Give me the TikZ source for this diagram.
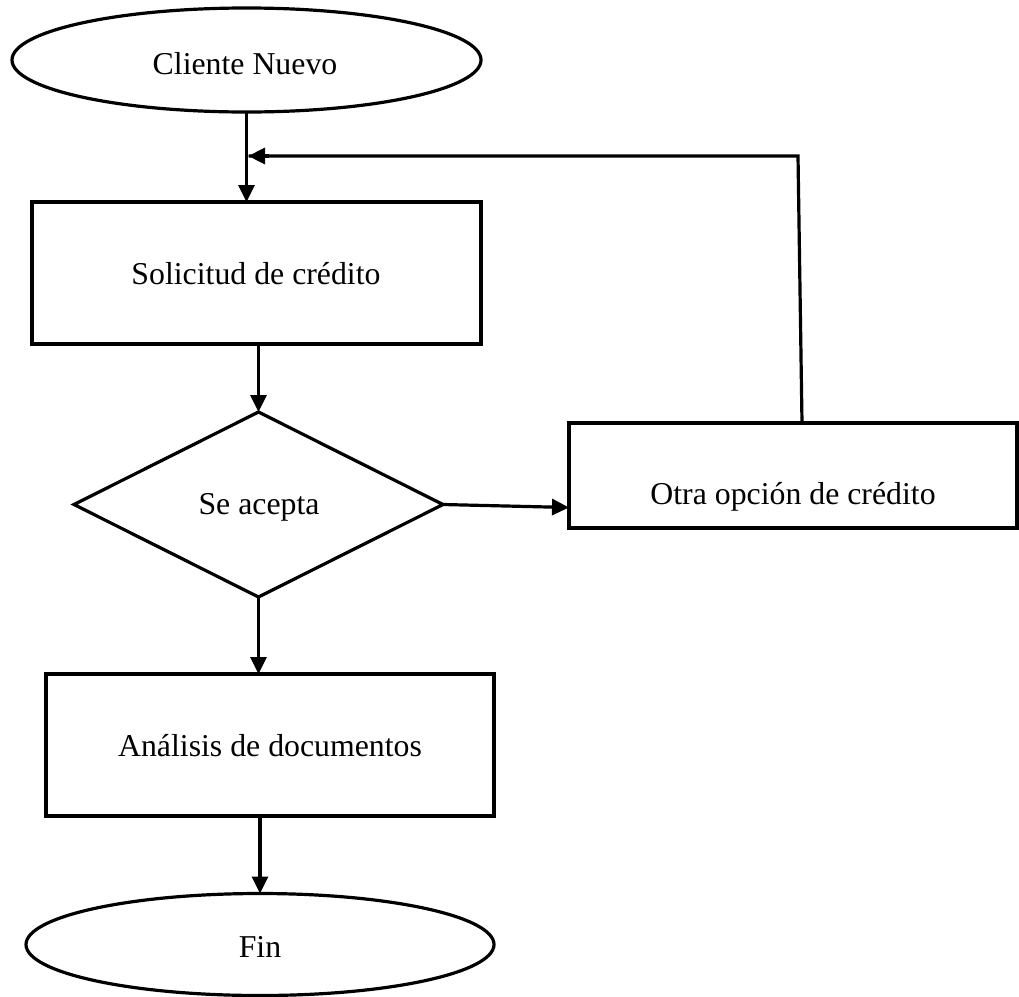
\documentclass[tikz,border=0pt]{standalone}
\usepackage{fontspec}
\setmainfont{Liberation Serif}
\usetikzlibrary{shapes.geometric,arrows.meta,calc}

\tikzset{
  base/.style={draw=black, line width=3.2pt, inner sep=0pt, outer sep=0pt,
    font=\fontsize{31.8}{38}\selectfont, text=black},
  term/.style={base, ellipse},
  procbox/.style={base, rectangle},
  decision/.style={base, diamond},
  arr/.style={line width=3.2pt, -{Triangle[length=17pt,width=16pt]}},
  plain/.style={line width=3.2pt},
}

\begin{document}
\begin{tikzpicture}[x=1pt, y=-1pt]
  \useasboundingbox (0,0) rectangle (1019,996);

  % shapes of the flow
  \node[term, minimum width=469pt, minimum height=104pt] (c1) at (246.5,60) {};
  \node[font=\fontsize{31.8}{38}\selectfont] (c1t) at (245,64) {Cliente Nuevo};

  \node[procbox, minimum width=449pt, minimum height=142pt] (s1) at (256.5,273) {};
  \node[font=\fontsize{31.8}{38}\selectfont] (s1t) at (256,274) {Solicitud de crédito};

  \node[decision, minimum width=369pt, minimum height=185pt] (d1) at (258.5,504.5) {};
  \node[font=\fontsize{31.8}{38}\selectfont] (d1t) at (259,507) {Se acepta};

  \node[procbox, minimum width=448pt, minimum height=105pt] (o1) at (793,475.5) {};
  \node[font=\fontsize{31.8}{38}\selectfont] (o1t) at (793,497) {Otra opción de crédito};

  \node[procbox, minimum width=448pt, minimum height=142pt] (a1) at (270,745) {};
  \node[font=\fontsize{31.8}{38}\selectfont] (a1t) at (270,746) {Análisis de documentos};

  \node[term, minimum width=468pt, minimum height=102pt] (f1) at (260,944.5) {};
  \node[font=\fontsize{31.8}{38}\selectfont] (f1t) at (260,947) {Fin};

  % connectors
  \draw[arr] (c1.south) -- (c1.south |- s1.north);
  \draw[arr] (d1.north |- s1.south) -- (d1.north);
  \draw[arr] (d1.east) -- ($(o1.west |- d1.east)+(0,3)$);
  \draw[arr] (d1.south) -- (d1.south |- a1.north);
  \draw[arr] (f1.north |- a1.south) -- (f1.north);

  % return path from the alternative option back to the request
  \coordinate (up) at ($(o1.north)+(9,0)$);
  \coordinate (corner) at (798,156);
  \coordinate (join) at (c1.south |- corner);
  \draw[plain, line join=miter] (up) -- (corner) -- ($(join)+(2,0)$);
  \draw[arr] ($(join)+(22,0)$) -- ($(join)+(1.6,0)$);
\end{tikzpicture}
\end{document}
